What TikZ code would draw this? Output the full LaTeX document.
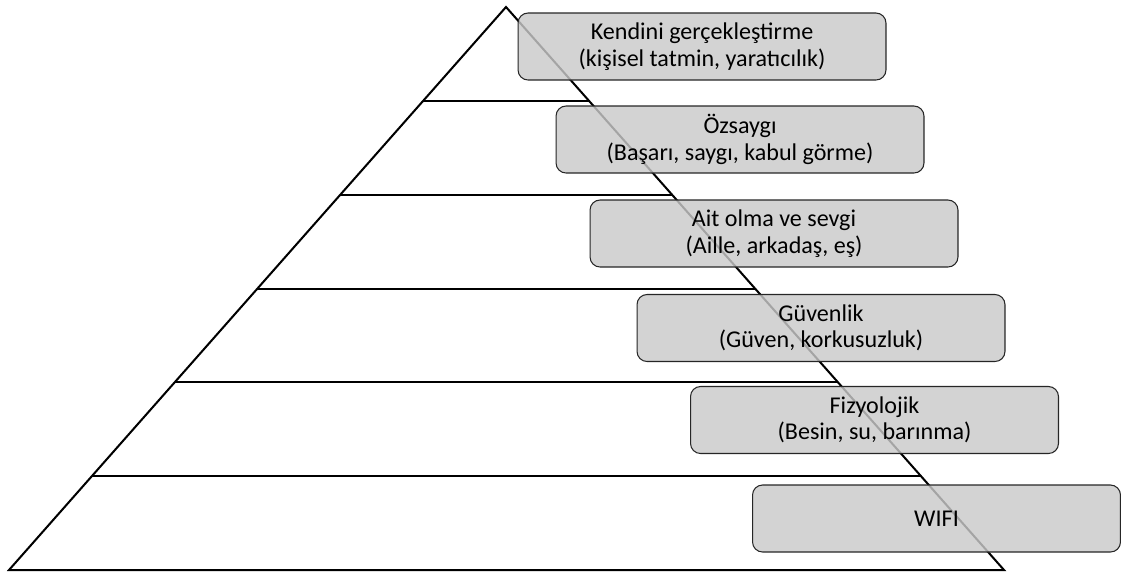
\documentclass[tikz,border=0pt]{standalone}
\usepackage{fontspec}
\setmainfont{Carlito}
\usetikzlibrary{calc}
\tikzstyle{level} = [rectangle, rounded corners = 0.2cm, text centered, align = center, minimum width = 7.36cm, minimum height = 1.34cm, draw = black!85, line width = 0.6pt, fill = black!21, fill opacity = 0.82, text opacity = 1, font = \fontsize{13.7}{15}\selectfont]
\tikzstyle{edge} = [draw = black, line width = 1.15pt, line join = miter]

\begin{document}
\begin{tikzpicture}[x = 0.02cm, y = -0.02cm]
\useasboundingbox (0,0) rectangle (1121,576);
\coordinate (apex) at (506,7);
\coordinate (baseL) at (9,570);
\coordinate (baseR) at (1004,570);

\draw [edge] (apex) -- (baseL) -- (baseR) -- cycle;
\foreach \k in {1,...,5}
  \draw [edge] ($(apex)!\k/6!(baseL)$) -- ($(apex)!\k/6!(baseR)$);

\node (selfReal) [level] at (702,46.5) {Kendini gerçekleştirme\\(kişisel tatmin, yaratıcılık)};
\node (esteem) [level] at (740,139.5) {Özsaygı\\(Başarı, saygı, kabul görme)};
\node (belong) [level] at (774,233.5) {Ait olma ve sevgi\\(Aille, arkadaş, eş)};
\node (safety) [level] at (821,328) {Güvenlik\\(Güven, korkusuzluk)};
\node (physio) [level] at (874.5,420) {Fizyolojik\\(Besin, su, barınma)};
\node (wifi) [level] at (936.5,518.5) {WIFI};
\end{tikzpicture}
\end{document}
